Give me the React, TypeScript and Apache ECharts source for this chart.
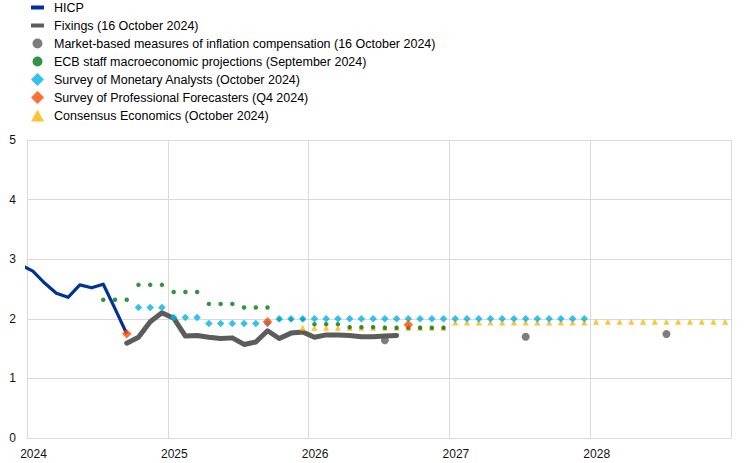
import React, { useEffect, useRef } from "react";
import * as echarts from "echarts";

// ---- Data (months as "YYYY-MM", plotted at mid-month) ----
const yearTicks = ["2024", "2025", "2026", "2027", "2028"];

const hicpMonths = ["2023-12", "2024-01", "2024-02", "2024-03", "2024-04", "2024-05", "2024-06", "2024-07", "2024-08", "2024-09"];
const hicpValues = [2.9, 2.8, 2.6, 2.43, 2.36, 2.57, 2.52, 2.58, 2.17, 1.75];

const fixingsStart = "2024-09";
const fixingsValues = [
  1.59, 1.69, 1.95, 2.1, 2.01, 1.71, 1.72, 1.69, 1.67, 1.68, 1.57, 1.61,
  1.8, 1.67, 1.76, 1.78, 1.69, 1.73, 1.73, 1.72, 1.7, 1.7, 1.71, 1.72,
];

const marketMonths = ["2026-07", "2027-07", "2028-07"];
const marketValues = [1.64, 1.7, 1.745];

const ecbQuarters = ["2024Q3", "2024Q4", "2025Q1", "2025Q2", "2025Q3", "2025Q4", "2026Q1", "2026Q2", "2026Q3", "2026Q4"];
const ecbValues = [2.32, 2.57, 2.45, 2.25, 2.19, 1.99, 1.91, 1.86, 1.85, 1.85];

const smaQuarters = ["2024Q4", "2025Q1", "2025Q2", "2025Q3", "2025Q4", "2026Q1", "2026Q2", "2026Q3", "2026Q4", "2027Q1", "2027Q2", "2027Q3", "2027Q4"];
const smaValues = [2.19, 2.02, 1.92, 1.92, 2.0, 2.0, 2.0, 2.0, 2.0, 2.0, 2.0, 2.0, 2.0];

const spfMonths = ["2024-09", "2025-09", "2026-09"];
const spfValues = [1.75, 1.95, 1.9];

const consensusPeriods = ["2025-12", "2026", "2027", "2028"];
const consensusValues = [1.85, 1.85, 1.94, 1.95];

const seriesNames = [
  "HICP",
  "Fixings (16 October 2024)",
  "Market-based measures of inflation compensation (16 October 2024)",
  "ECB staff macroeconomic projections (September 2024)",
  "Survey of Monetary Analysts (October 2024)",
  "Survey of Professional Forecasters (Q4 2024)",
  "Consensus Economics (October 2024)",
];

// ---- helpers: convert dates to month position ----
const monthIndex = (ym: string) => {
  const [y, m] = ym.split("-").map(Number);
  return (y - 2024) * 12 + (m - 1);
};
const toX = (ym: string) => monthIndex(ym) + 0.5;
const monthsOfQuarter = (q: string) => {
  const y = Number(q.slice(0, 4));
  const qi = Number(q.slice(5));
  return [0, 1, 2].map((k) => (y - 2024) * 12 + (qi - 1) * 3 + k + 0.5);
};
const monthsOfPeriod = (p: string) => {
  if (p.length === 4) {
    const y = Number(p);
    return Array.from({ length: 12 }, (_, k) => (y - 2024) * 12 + k + 0.5);
  }
  return [toX(p)];
};

const hicpData = hicpMonths.map((m, i) => [toX(m), hicpValues[i]]);
const fixingsData = fixingsValues.map((v, i) => [toX(fixingsStart) + i, v]);
const marketData = marketMonths.map((m, i) => [toX(m), marketValues[i]]);
const ecbData = ecbQuarters.flatMap((q, i) => monthsOfQuarter(q).map((x) => [x, ecbValues[i]]));
const smaData = smaQuarters.flatMap((q, i) => monthsOfQuarter(q).map((x) => [x, smaValues[i]]));
const spfData = spfMonths.map((m, i) => [toX(m), spfValues[i]]);
const consensusData = consensusPeriods.flatMap((p, i) => monthsOfPeriod(p).map((x) => [x, consensusValues[i]]));

const COLORS = {
  hicp: "#003299",
  fix: "#5c5c5c",
  market: "#5c5c5c",
  ecb: "#007816",
  sma: "#00b1ea",
  spf: "#ff4b00",
  cons: "#ffb400",
};

const ICON_DASH = "path://M0,0M0,4.5L13,4.5L13,8.5L0,8.5ZM18,13";
const ICON_CIRCLE = "path://M0,0M1.5,6.5A5,5,0,1,0,11.5,6.5A5,5,0,1,0,1.5,6.5ZM18,13";
const ICON_DIAMOND = "path://M0,0M6.5,0L13,6.5L6.5,13L0,6.5ZM18,13";
const ICON_TRIANGLE = "path://M0,0M6.5,0.5L13,12.5L0,12.5ZM18,13";

const FONT = 'Arial, "Liberation Sans", sans-serif';

export default function App() {
  const ref = useRef<HTMLDivElement>(null);
  useEffect(() => {
    if (!ref.current) return;
    const chart = echarts.init(ref.current, undefined, { renderer: "svg" });
    chart.setOption({
      animation: false,
      backgroundColor: "#ffffff",
      textStyle: { fontFamily: FONT },
      legend: {
        orient: "vertical",
        left: 31,
        top: 1,
        itemWidth: 18,
        itemHeight: 13,
        itemGap: 5,
        padding: 0,
        selectedMode: false,
        textStyle: { fontSize: 12.5, color: "#000", fontFamily: FONT },
        data: [
          { name: seriesNames[0], icon: ICON_DASH },
          { name: seriesNames[1], icon: ICON_DASH },
          { name: seriesNames[2], icon: ICON_CIRCLE },
          { name: seriesNames[3], icon: ICON_CIRCLE },
          { name: seriesNames[4], icon: ICON_DIAMOND },
          { name: seriesNames[5], icon: ICON_DIAMOND },
          { name: seriesNames[6], icon: ICON_TRIANGLE },
        ],
      },
      grid: { left: 27, right: 13, top: 140, bottom: 25, containLabel: false },
      xAxis: {
        type: "value",
        min: 0,
        max: 60,
        interval: 12,
        axisTick: { show: false },
        axisLine: { show: true, lineStyle: { color: "#d9d9d9", width: 1 } },
        splitLine: { show: true, lineStyle: { color: "#d9d9d9", width: 1 } },
        axisLabel: {
          color: "#111",
          fontSize: 12,
          fontFamily: FONT,
          margin: 10,
          padding: [0, 0, 0, 13],
          showMaxLabel: false,
          formatter: (v: number) => yearTicks[Math.round(v / 12)] ?? "",
        },
      },
      yAxis: {
        type: "value",
        min: 0,
        max: 5,
        interval: 1,
        axisTick: { show: false },
        axisLine: { show: true, lineStyle: { color: "#d9d9d9", width: 1 } },
        splitLine: { show: true, lineStyle: { color: "#d9d9d9", width: 1 } },
        axisLabel: { color: "#111", fontSize: 12, fontFamily: FONT, margin: 11 },
      },
      series: [
        {
          name: seriesNames[0],
          type: "line",
          data: hicpData,
          showSymbol: false,
          symbol: "none",
          clip: true,
          color: COLORS.hicp,
          lineStyle: { color: COLORS.hicp, width: 3.2, join: "round" },
          z: 2,
        },
        {
          name: seriesNames[1],
          type: "line",
          data: fixingsData,
          showSymbol: false,
          symbol: "none",
          color: COLORS.fix,
          lineStyle: { color: COLORS.fix, width: 5, join: "round", cap: "round" },
          z: 3,
        },
        {
          name: seriesNames[2],
          type: "scatter",
          data: marketData,
          symbol: "circle",
          symbolSize: 8,
          color: COLORS.market,
          itemStyle: { color: COLORS.market },
          z: 4,
        },
        {
          name: seriesNames[6],
          type: "scatter",
          data: consensusData,
          symbol: "triangle",
          symbolSize: [6, 6],
          color: COLORS.cons,
          itemStyle: { color: COLORS.cons },
          z: 5,
        },
        {
          name: seriesNames[3],
          type: "scatter",
          data: ecbData,
          symbol: "circle",
          symbolSize: 4.5,
          color: COLORS.ecb,
          itemStyle: { color: COLORS.ecb },
          z: 6,
        },
        {
          name: seriesNames[4],
          type: "scatter",
          data: smaData,
          symbol: "diamond",
          symbolSize: 7.5,
          color: COLORS.sma,
          itemStyle: { color: COLORS.sma },
          z: 7,
        },
        {
          name: seriesNames[5],
          type: "scatter",
          data: spfData,
          symbol: "diamond",
          symbolSize: 9.5,
          color: COLORS.spf,
          itemStyle: { color: COLORS.spf },
          z: 8,
        },
      ],
    });
    return () => chart.dispose();
  }, []);
  return (
    <div
      ref={ref}
      style={{ position: "fixed", left: 0, top: 0, width: 744, height: 463, background: "#fff" }}
    />
  );
}
